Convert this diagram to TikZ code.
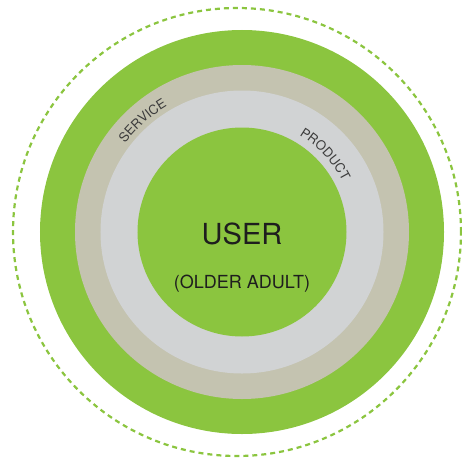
\documentclass[tikz,border=0pt]{standalone}
\usepackage{fontspec}
\setmainfont{TeX Gyre Heros}
\usetikzlibrary{decorations.text}
\definecolor{leafgreen}{RGB}{139,197,63}
\definecolor{stone}{RGB}{196,195,176}
\definecolor{mist}{RGB}{209,211,212}
\definecolor{ink}{RGB}{30,30,30}
\definecolor{label}{RGB}{60,60,60}
\newcommand{\ringfont}{\fontsize{13}{14}\selectfont}
\tikzset{
  disc/.style={circle, inner sep=0pt, outer sep=0pt},
  halo/.style={circle, inner sep=0pt, draw=leafgreen, line width=2.2pt, dash pattern=on 5pt off 4pt},
  ringlabel/.style={decorate, decoration={text along path, text align=center, text color=label}}
}
\begin{document}
\begin{tikzpicture}[x=1pt,y=1pt]
\useasboundingbox (-242,-229) rectangle (220,232);
\node[halo, minimum size=448pt] (environment) at (-5,0) {};
\node[disc, fill=leafgreen, minimum size=404pt] (context) at (0,0) {};
\node[disc, fill=stone, minimum size=334pt] (service) at (0,0) {};
\node[disc, fill=mist, minimum size=283pt] (product) at (0,0) {};
\node[disc, fill=leafgreen, minimum size=209pt] (core) at (0,0) {};
% ring labels
\path[ringlabel, decoration={text={|\ringfont|SERVICE}}] (161.8:146.5) arc[start angle=161.8, end angle=101.8, radius=146.5pt];
\path[ringlabel, decoration={text={|\ringfont|PRODUCT}}] (73:112.5) arc[start angle=73, end angle=13, radius=112.5pt];
% centre
\node[text=ink, font=\fontsize{29}{30}\selectfont] (user) at (0,-2) {USER};
\node[text=ink, font=\fontsize{18}{20}\selectfont] (olderadult) at (0,-52) {(OLDER ADULT)};
\end{tikzpicture}
\end{document}
